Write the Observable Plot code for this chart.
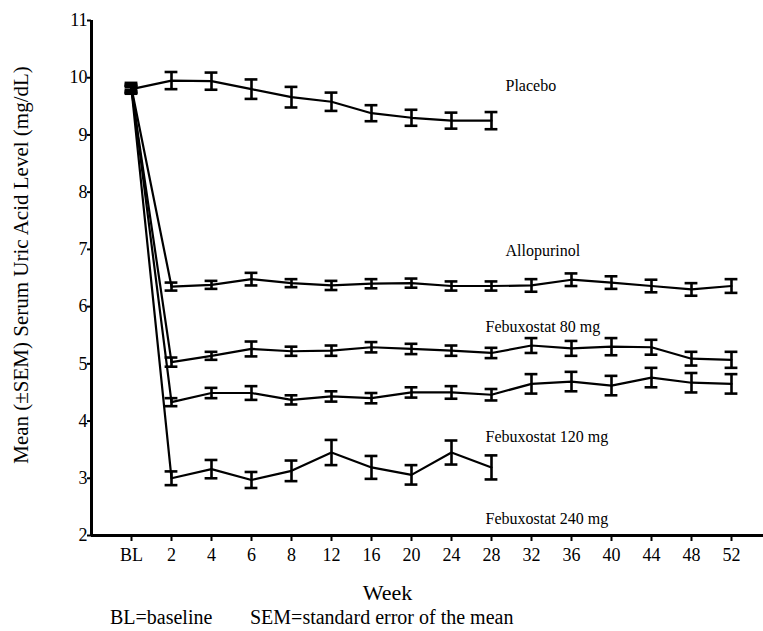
<!DOCTYPE html>
<html>
<head>
<meta charset="utf-8">
<script src="https://cdn.jsdelivr.net/npm/d3@7"></script>
<script src="https://cdn.jsdelivr.net/npm/@observablehq/plot@0.6"></script>
<style>
  html, body { margin: 0; padding: 0; background: #fff; }
  #chart svg { font-family: "Liberation Serif", "Times New Roman", serif; display: block; }
  .caption { position: relative; height: 25px; font-family: "Liberation Serif", "Times New Roman", serif; font-size: 20px; color: #000; }
  .caption span { position: absolute; top: 0px; line-height: 22px; white-space: nowrap; }
</style>
</head>
<body>
<div id="chart"></div>
<div class="caption"><span style="left:110px">BL=baseline</span><span style="left:250px">SEM=standard error of the mean</span></div>
<script>
const weeks = ["BL","2","4","6","8","12","16","20","24","28","32","36","40","44","48","52"];

const placeboMean = [9.80, 9.95, 9.94, 9.80, 9.66, 9.58, 9.38, 9.30, 9.25, 9.25];
const placeboSem  = [0.06, 0.15, 0.15, 0.17, 0.18, 0.16, 0.14, 0.14, 0.14, 0.15];

const alloMean = [9.82, 6.35, 6.38, 6.48, 6.41, 6.37, 6.40, 6.41, 6.36, 6.36, 6.37, 6.47, 6.42, 6.36, 6.30, 6.36];
const alloSem  = [0.06, 0.07, 0.07, 0.11, 0.07, 0.08, 0.08, 0.08, 0.08, 0.08, 0.11, 0.11, 0.11, 0.11, 0.11, 0.12];

const feb80Mean = [9.78, 5.03, 5.14, 5.26, 5.22, 5.23, 5.29, 5.26, 5.23, 5.19, 5.32, 5.27, 5.30, 5.29, 5.09, 5.07];
const feb80Sem  = [0.06, 0.08, 0.07, 0.13, 0.08, 0.09, 0.09, 0.09, 0.09, 0.09, 0.13, 0.13, 0.15, 0.13, 0.12, 0.14];

const feb120Mean = [9.85, 4.33, 4.49, 4.49, 4.37, 4.43, 4.40, 4.50, 4.50, 4.46, 4.65, 4.69, 4.62, 4.76, 4.67, 4.65];
const feb120Sem  = [0.06, 0.07, 0.09, 0.12, 0.08, 0.09, 0.09, 0.09, 0.11, 0.10, 0.17, 0.17, 0.17, 0.17, 0.17, 0.17];

const feb240Mean = [9.80, 3.00, 3.16, 2.97, 3.13, 3.45, 3.19, 3.06, 3.45, 3.19];
const feb240Sem  = [0.06, 0.12, 0.16, 0.14, 0.18, 0.22, 0.20, 0.17, 0.21, 0.21];

const seriesNames = ["Placebo", "Allopurinol", "Febuxostat 80 mg", "Febuxostat 120 mg", "Febuxostat 240 mg"];
const labelX = [9.35, 9.35, 8.85, 8.85, 8.85];
const labelY = [9.85, 6.98, 5.65, 3.73, 2.29];

const seriesMeans = [placeboMean, alloMean, feb80Mean, feb120Mean, feb240Mean];
const seriesSems = [placeboSem, alloSem, feb80Sem, feb120Sem, feb240Sem];

const data = [];
seriesNames.forEach((name, s) => {
  seriesMeans[s].forEach((m, i) => {
    data.push({series: name, i, week: weeks[i], mean: m, sem: seriesSems[s][i]});
  });
});
const labels = seriesNames.map((name, s) => ({name, x: labelX[s], y: labelY[s]}));

const capHalf = 0.16;
const font = "Liberation Serif";

const chart = Plot.plot({
  width: 763,
  height: 606,
  marginLeft: 91,
  marginRight: 0,
  marginTop: 20,
  marginBottom: 71,
  style: {fontFamily: font, background: "#fff", color: "#000", overflow: "visible"},
  x: {type: "linear", domain: [-1, 15.8]},
  y: {domain: [2, 11]},
  marks: [
    Plot.axisY({ticks: d3.range(2, 12), tickSize: 4, tickPadding: 0, fontSize: 18, label: null, strokeWidth: 2}),
    Plot.axisX({ticks: d3.range(0, 16), tickSize: 6, tickPadding: 7, fontSize: 18, label: null, strokeWidth: 2, tickFormat: i => weeks[i]}),
    Plot.ruleX([-1], {y1: 2, y2: 11, strokeWidth: 3}),
    Plot.ruleY([2], {x1: -1, x2: 15.8, strokeWidth: 3}),
    Plot.line(data, {x: "i", y: "mean", z: "series", stroke: "#000", strokeWidth: 2.2}),
    Plot.ruleX(data, {x: "i", y1: d => d.mean - d.sem, y2: d => d.mean + d.sem, stroke: "#000", strokeWidth: 2.6}),
    Plot.ruleY(data, {y: d => d.mean - d.sem, x1: d => d.i - capHalf, x2: d => d.i + capHalf, stroke: "#000", strokeWidth: 2.6}),
    Plot.ruleY(data, {y: d => d.mean + d.sem, x1: d => d.i - capHalf, x2: d => d.i + capHalf, stroke: "#000", strokeWidth: 2.6}),
    Plot.text(labels, {x: "x", y: "y", text: "name", textAnchor: "start", lineAnchor: "middle", fontSize: 16, fill: "#000"}),
    Plot.text(["Mean (±SEM) Serum Uric Acid Level (mg/dL)"], {frameAnchor: "left", dx: -70, dy: -13, rotate: -90, textAnchor: "middle", lineAnchor: "middle", fontSize: 21, fill: "#000"}),
    Plot.text(["Week"], {frameAnchor: "bottom", dx: -40, dy: 57, textAnchor: "middle", lineAnchor: "middle", fontSize: 22, fill: "#000"})
  ]
});
document.getElementById("chart").appendChild(chart);
</script>
</body>
</html>
